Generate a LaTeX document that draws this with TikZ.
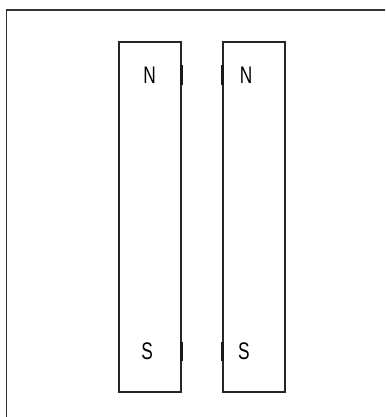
\documentclass[tikz,border=0pt]{standalone}
\usepackage{fontspec}
\setmainfont{Liberation Sans}
\begin{document}
\begin{tikzpicture}[x=1pt,y=-1pt,
  magnet/.style={draw=black!85,line width=2pt,minimum width=62pt,minimum height=350pt,inner sep=0pt},
  pole/.style={font=\fontsize{24}{24}\selectfont,inner sep=0pt},
  polemark/.style={line width=3pt,draw=black!90}]
\useasboundingbox (0,0) rectangle (385,417);
\draw[line width=1.5pt,black!80] (6.5,417) -- (6.5,10) -- (385,10);
\node[magnet] (m1) at (150,217) {};
\node[magnet] (m2) at (254,217) {};
\node[pole] (n1) at (149.5,75) {\scalebox{0.72}[1]{N}};
\node[pole] (n2) at (246,75) {\scalebox{0.72}[1]{N}};
\node[pole] (s1) at (147.2,351.5) {\scalebox{0.72}[1]{S}};
\node[pole] (s2) at (244,351.5) {\scalebox{0.72}[1]{S}};
\draw[polemark] ([xshift=-0.5pt]m1.east |- 0,65) -- ([xshift=-0.5pt]m1.east |- 0,85);
\draw[polemark] ([xshift=0.5pt]m2.west |- 0,65) -- ([xshift=0.5pt]m2.west |- 0,85);
\draw[polemark] ([xshift=-0.5pt]m1.east |- 0,342) -- ([xshift=-0.5pt]m1.east |- 0,361);
\draw[polemark] ([xshift=0.5pt]m2.west |- 0,342) -- ([xshift=0.5pt]m2.west |- 0,361);
\end{tikzpicture}
\end{document}
